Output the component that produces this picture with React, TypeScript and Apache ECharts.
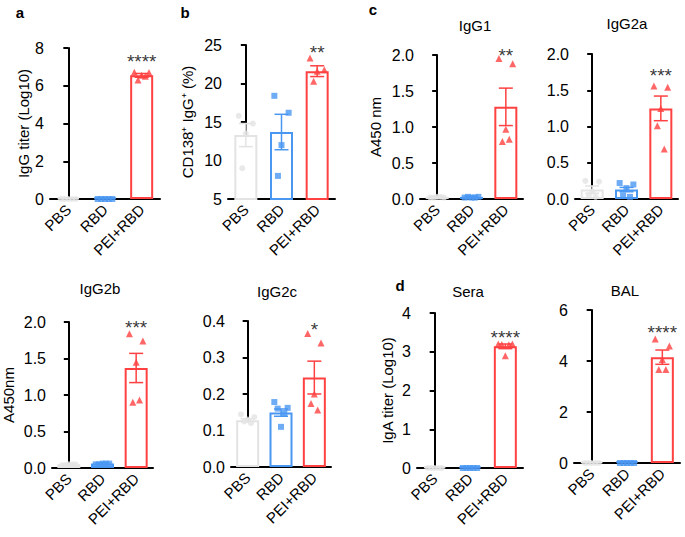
import React, { useEffect, useRef } from "react";
import * as echarts from "echarts";

const CATEGORIES = ["PBS", "RBD", "PEI+RBD"];
const COLORS = ["#e3e3e3", "#4a97f2", "#ff4141"];
const SYMBOLS = ["circle", "rect", "triangle"];
const JITTER = [-0.2, 0.2, 0, -0.1, 0.1];

// Panel a: IgG titer (Log10)
const A_MEAN = [0.08, 0.08, 6.55];
const A_SEM = [0, 0, 0.1];
const A_PTS = [[0, 0, 0, 0, 0], [0, 0, 0, 0, 0], [6.72, 6.7, 6.55, 6.3, 6.5]];
// Panel b: CD138+ IgG+ (%)
const B_MEAN = [13.3, 13.7, 21.6];
const B_SEM = [1.5, 2.3, 0.7];
const B_PTS = [[15.8, 14.8, 13.5, 9.0], [18.4, 16.2, 12.0, 8.0], [23.3, 21.8, 21.6, 20.3]];
// Panel c: IgG1
const C1_MEAN = [0.03, 0.03, 1.28];
const C1_SEM = [0.01, 0.01, 0.26];
const C1_PTS = [[0.02, 0.02, 0.03, 0.02, 0.03], [0.02, 0.03, 0.02, 0.03, 0.02], [1.95, 1.88, 0.97, 0.8, 0.83]];
// Panel c: IgG2a
const C2A_MEAN = [0.13, 0.13, 1.25];
const C2A_SEM = [0.05, 0.03, 0.17];
const C2A_PTS = [[0.25, 0.24, 0.1, 0.05, 0.03], [0.22, 0.2, 0.15, 0.05, 0.03], [1.56, 1.54, 1.25, 1.01, 0.69]];
// IgG2b
const C2B_MEAN = [0.05, 0.06, 1.37];
const C2B_SEM = [0.01, 0.01, 0.2];
const C2B_PTS = [[0.04, 0.05, 0.05, 0.04, 0.05], [0.05, 0.06, 0.06, 0.05, 0.06], [1.84, 1.74, 1.45, 0.9, 0.93]];
// IgG2c
const C2C_MEAN = [0.128, 0.149, 0.245];
const C2C_SEM = [0.004, 0.01, 0.045];
const C2C_PTS = [[0.144, 0.137, 0.13, 0.125, 0.12], [0.178, 0.162, 0.11, 0.16, 0.148], [0.366, 0.34, 0.2, 0.174, 0.156]];
// d: Sera IgA
const D_SERA_MEAN = [0.04, 0.04, 3.14];
const D_SERA_SEM = [0, 0, 0.06];
const D_SERA_PTS = [[0, 0, 0, 0, 0], [0, 0, 0, 0, 0], [3.2, 3.2, 2.9, 3.19, 3.18]];
// d: BAL IgA
const D_BAL_MEAN = [0.05, 0.07, 4.15];
const D_BAL_SEM = [0, 0, 0.28];
const D_BAL_PTS = [[0, 0, 0, 0, 0], [0, 0, 0, 0, 0], [4.86, 4.59, 4.06, 3.67, 3.67]];

const STARS = ["****", "**", "**", "***", "***", "*", "****", "****"];

const FONT = "'Liberation Sans', Arial, Helvetica, sans-serif";

type Panel = {
  grid: { left: number; top: number; width: number; height: number };
  min: number; max: number; interval: number; decimals: number;
  yName: string; nameGap: number;
  mean: number[]; sem: number[]; pts: number[][];
  star: string; starY: number;
};

const PANELS: Panel[] = [
  { grid: { left: 50, top: 48, width: 110, height: 151 }, min: 0, max: 8, interval: 2, decimals: 0,
    yName: "IgG titer (Log10)", nameGap: 18, mean: A_MEAN, sem: A_SEM, pts: A_PTS, star: STARS[0], starY: 7.3 },
  { grid: { left: 228, top: 45, width: 107, height: 154 }, min: 5, max: 25, interval: 5, decimals: 0,
    yName: "CD138⁺ IgG⁺ (%)", nameGap: 33, mean: B_MEAN, sem: B_SEM, pts: B_PTS, star: STARS[1], starY: 24.0 },
  { grid: { left: 420, top: 55, width: 103, height: 144 }, min: 0, max: 2, interval: 0.5, decimals: 1,
    yName: "A450 nm", nameGap: 37, mean: C1_MEAN, sem: C1_SEM, pts: C1_PTS, star: STARS[2], starY: 1.99 },
  { grid: { left: 575, top: 54, width: 103, height: 145 }, min: 0, max: 2, interval: 0.5, decimals: 1,
    yName: "", nameGap: 37, mean: C2A_MEAN, sem: C2A_SEM, pts: C2A_PTS, star: STARS[3], starY: 1.70 },
  { grid: { left: 49, top: 322, width: 104, height: 146 }, min: 0, max: 2, interval: 0.5, decimals: 1,
    yName: "A450nm", nameGap: 36, mean: C2B_MEAN, sem: C2B_SEM, pts: C2B_PTS, star: STARS[4], starY: 1.92 },
  { grid: { left: 231, top: 321, width: 100, height: 146 }, min: 0, max: 0.4, interval: 0.1, decimals: 1,
    yName: "", nameGap: 36, mean: C2C_MEAN, sem: C2C_SEM, pts: C2C_PTS, star: STARS[5], starY: 0.376 },
  { grid: { left: 417, top: 313, width: 106, height: 155 }, min: 0, max: 4, interval: 1, decimals: 0,
    yName: "IgA titer (Log10)", nameGap: 22, mean: D_SERA_MEAN, sem: D_SERA_SEM, pts: D_SERA_PTS, star: STARS[6], starY: 3.36 },
  { grid: { left: 574, top: 310, width: 106, height: 153 }, min: 0, max: 6, interval: 2, decimals: 0,
    yName: "", nameGap: 22, mean: D_BAL_MEAN, sem: D_BAL_SEM, pts: D_BAL_PTS, star: STARS[7], starY: 5.1 },
];

const TITLES = [
  { text: "IgG1", x: 475, y: 25 },
  { text: "IgG2a", x: 627, y: 23 },
  { text: "IgG2b", x: 100, y: 288 },
  { text: "IgG2c", x: 277, y: 291 },
  { text: "Sera", x: 468, y: 291 },
  { text: "BAL", x: 625, y: 290 },
];
const LETTERS = [
  { text: "a", x: 20, y: 12 },
  { text: "b", x: 185, y: 12 },
  { text: "c", x: 373, y: 9 },
  { text: "d", x: 400, y: 285 },
];

function buildOption() {
  const grid: any[] = [];
  const xAxis: any[] = [];
  const yAxis: any[] = [];
  const series: any[] = [];
  PANELS.forEach((p, idx) => {
    grid.push({ ...p.grid });
    xAxis.push({
      type: "category", gridIndex: idx, data: CATEGORIES,
      axisLine: { lineStyle: { color: "#000", width: 2 } },
      axisTick: { alignWithLabel: true, length: 4, lineStyle: { color: "#000", width: 1.5 } },
      axisLabel: { interval: 0, rotate: 45, fontSize: 15, color: "#000", fontFamily: FONT, margin: 8 },
      splitLine: { show: false },
    });
    xAxis.push({
      type: "value", gridIndex: idx, min: -0.5, max: 2.5, show: false,
    });
    yAxis.push({
      type: "value", gridIndex: idx, min: p.min, max: p.max, interval: p.interval,
      name: p.yName, nameLocation: "middle", nameGap: p.nameGap,
      nameTextStyle: { fontSize: 15, color: "#000", fontFamily: FONT },
      axisLine: { show: true, lineStyle: { color: "#000", width: 2 } },
      axisTick: { show: true, length: 5, lineStyle: { color: "#000", width: 2 } },
      axisLabel: { fontSize: 16, color: "#000", fontFamily: FONT, margin: 6,
        formatter: (v: number) => v.toFixed(p.decimals) },
      splitLine: { show: false },
    });
    series.push({
      type: "bar", xAxisIndex: 2 * idx, yAxisIndex: idx, barWidth: 23,
      data: p.mean.map((m, i) => ({ value: m, itemStyle: { color: "#fff", borderColor: COLORS[i], borderWidth: 2 } })),
      z: 1,
    });
    series.push({
      type: "custom", xAxisIndex: 2 * idx, yAxisIndex: idx, z: 3,
      data: p.mean.map((m, i) => [i, m, p.sem[i]]),
      renderItem: (params: any, api: any) => {
        const i = api.value(0), m = api.value(1), s = api.value(2);
        if (!s) return null;
        const t = api.coord([i, m + s]);
        const b = api.coord([i, m - s]);
        const w = 7;
        const style = { stroke: COLORS[i], lineWidth: 1.5 };
        return {
          type: "group",
          children: [
            { type: "line", shape: { x1: t[0], y1: t[1], x2: b[0], y2: b[1] }, style },
            { type: "line", shape: { x1: t[0] - w, y1: t[1], x2: t[0] + w, y2: t[1] }, style },
            { type: "line", shape: { x1: b[0] - w, y1: b[1], x2: b[0] + w, y2: b[1] }, style },
          ],
        };
      },
    });
    p.pts.forEach((vals, i) => {
      series.push({
        type: "scatter", xAxisIndex: 2 * idx + 1, yAxisIndex: idx, z: 4,
        symbol: SYMBOLS[i], symbolSize: i === 2 ? 7 : 6,
        itemStyle: { color: COLORS[i] },
        data: vals.map((v, j) => [i + JITTER[j], v]),
      });
    });
    series.push({
      type: "scatter", xAxisIndex: 2 * idx + 1, yAxisIndex: idx, z: 5,
      symbolSize: 0, data: [[2, p.starY]],
      label: { show: true, position: "inside", formatter: p.star, color: "#000", fontSize: 19, fontFamily: FONT },
    });
  });
  const graphic: any[] = [];
  TITLES.forEach((t) => graphic.push({
    type: "text", x: t.x, y: t.y,
    style: { text: t.text, align: "center", verticalAlign: "middle", fontSize: 15, fontFamily: FONT, fill: "#000" },
  }));
  LETTERS.forEach((t) => graphic.push({
    type: "text", x: t.x, y: t.y,
    style: { text: t.text, align: "center", verticalAlign: "middle", fontSize: 15, fontWeight: "bold", fontFamily: FONT, fill: "#000" },
  }));
  return { animation: false, backgroundColor: "#fff", grid, xAxis, yAxis, series, graphic };
}

export default function App() {
  const ref = useRef<HTMLDivElement>(null);
  useEffect(() => {
    document.body.style.margin = "0";
    const chart = echarts.init(ref.current!, undefined, { renderer: "svg" });
    chart.setOption(buildOption() as any);
    return () => chart.dispose();
  }, []);
  return <div ref={ref} style={{ width: 685, height: 537 }} />;
}
